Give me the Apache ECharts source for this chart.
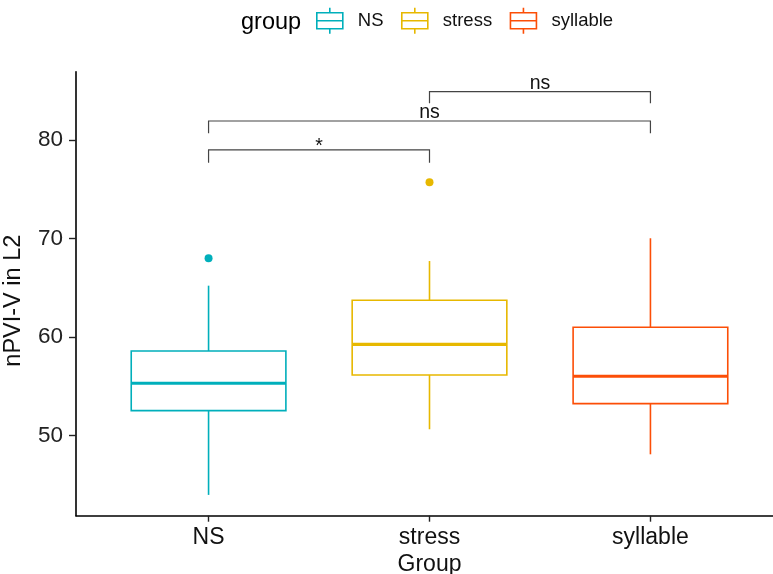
<!DOCTYPE html>
<html>
<head>
<meta charset="utf-8">
<script src="https://cdn.jsdelivr.net/npm/echarts@6/dist/echarts.min.js"></script>
<style>
  html, body { margin: 0; padding: 0; background: #fff; }
  #chart { width: 773px; height: 574px; }
</style>
</head>
<body>
<div id="chart"></div>
<script>
// Groups and their box summaries (nPVI-V in L2)
const groups = ['NS', 'stress', 'syllable'];
const groupColors = ['#00AFBB', '#E7B800', '#FC4E07'];
const whiskerLow = [43.99, 50.65, 48.11];
const q1 = [52.54, 56.16, 53.25];
const median = [55.32, 59.27, 56.03];
const q3 = [58.59, 63.74, 61.00];
const whiskerHigh = [65.22, 67.72, 70.03];
const outliers = [[68.0], [75.71], []];

// Pairwise comparisons drawn as brackets above the boxes
const comparisons = [['NS', 'stress'], ['NS', 'syllable'], ['stress', 'syllable']];
const comparisonLabels = ['*', 'ns', 'ns'];
const bracketLevel = [78.99, 81.93, 84.90];
const bracketTip = [77.70, 80.68, 83.72];

// Axis scale
const yTicks = [50, 60, 70, 80];
const yMin = 41.88, yMax = 86.93;
const xMin = 0.4, xMax = 3.6;

const FONT = 'Liberation Sans, Arial, Helvetica, sans-serif';
const BOX_FRACTION = 0.70;
const pos = name => groups.indexOf(name) + 1;

const chart = echarts.init(document.getElementById('chart'), null, { renderer: 'canvas' });

function renderBox(params, api) {
  const x = api.value(0);
  const color = api.visual('color');
  const half = api.size([1, 0])[0] * BOX_FRACTION / 2;
  const pLo = api.coord([x, api.value(1)]);
  const pQ1 = api.coord([x, api.value(2)]);
  const pMed = api.coord([x, api.value(3)]);
  const pQ3 = api.coord([x, api.value(4)]);
  const pHi = api.coord([x, api.value(5)]);
  const cx = pMed[0];
  const stroke = { stroke: color, lineWidth: 1.6, fill: null };
  return {
    type: 'group',
    children: [
      { type: 'line', shape: { x1: cx, y1: pQ3[1], x2: cx, y2: pHi[1] }, style: stroke },
      { type: 'line', shape: { x1: cx, y1: pQ1[1], x2: cx, y2: pLo[1] }, style: stroke },
      { type: 'rect', shape: { x: cx - half, y: pQ3[1], width: 2 * half, height: pQ1[1] - pQ3[1] },
        style: { stroke: color, lineWidth: 1.6, fill: '#fff' } },
      { type: 'line', shape: { x1: cx - half, y1: pMed[1], x2: cx + half, y2: pMed[1] },
        style: { stroke: color, lineWidth: 3.2 } }
    ]
  };
}

function renderBracket(params, api) {
  const a = api.value(0), b = api.value(1);
  const level = api.value(2), tip = api.value(3);
  const label = comparisonLabels[params.dataIndex];
  const pA0 = api.coord([a, tip]), pA1 = api.coord([a, level]);
  const pB1 = api.coord([b, level]), pB0 = api.coord([b, tip]);
  const mid = api.coord([(a + b) / 2, level]);
  // the asterisk glyph sits high in its line box, so it is nudged further down
  const nudge = label === '*' ? 7 : 2;
  return {
    type: 'group',
    children: [
      { type: 'polyline', shape: { points: [pA0, pA1, pB1, pB0] },
        style: { stroke: '#444', lineWidth: 1.2, fill: null } },
      { type: 'text', x: mid[0], y: mid[1] + nudge,
        style: { text: label, font: '19.5px ' + FONT, fill: '#111',
                 textAlign: 'center', textVerticalAlign: 'bottom' } }
    ]
  };
}

const series = [];
groups.forEach((g, i) => {
  series.push({
    name: g,
    type: 'custom',
    renderItem: renderBox,
    itemStyle: { color: groupColors[i] },
    encode: { x: 0, y: [1, 2, 3, 4, 5] },
    data: [[i + 1, whiskerLow[i], q1[i], median[i], q3[i], whiskerHigh[i]]],
    z: 2
  });
  series.push({
    name: g,
    type: 'scatter',
    symbol: 'circle',
    symbolSize: 8,
    itemStyle: { color: groupColors[i], opacity: 1 },
    data: outliers[i].map(v => [i + 1, v]),
    z: 3
  });
});
series.push({
  name: 'comparisons',
  type: 'custom',
  renderItem: renderBracket,
  encode: { x: [0, 1], y: [2, 3] },
  data: comparisons.map((c, k) => [pos(c[0]), pos(c[1]), bracketLevel[k], bracketTip[k]]),
  silent: true,
  z: 4
});

const boxIcon = 'path://M1,5 L27,5 L27,21 L1,21 Z M1,13 L27,13 M14,0 L14,5 M14,21 L14,26';

chart.setOption({
  animation: false,
  backgroundColor: '#fff',
  textStyle: { fontFamily: FONT },
  title: {
    text: 'group',
    left: 241,
    top: 11,
    padding: 0,
    textStyle: { fontFamily: FONT, fontSize: 23.5, fontWeight: 'normal', color: '#000' }
  },
  legend: {
    left: 316,
    top: 7,
    padding: 0,
    itemWidth: 28,
    itemHeight: 26,
    itemGap: 17.5,
    textStyle: { fontFamily: FONT, fontSize: 18.5, color: '#111', padding: [0, 0, 0, 9] },
    data: groups.map((g, i) => ({
      name: g,
      icon: boxIcon,
      itemStyle: { color: 'rgba(255,255,255,0)', borderColor: groupColors[i], borderWidth: 1.6 }
    }))
  },
  grid: { left: 76, top: 71.7, width: 707, bottom: 58.3, containLabel: false, outerBoundsMode: 'none' },
  xAxis: {
    type: 'value',
    min: xMin,
    max: xMax,
    name: 'Group',
    nameLocation: 'middle',
    nameGap: 37,
    nameTextStyle: { fontFamily: FONT, fontSize: 23, color: '#111' },
    axisLine: { show: true, onZero: false, lineStyle: { color: '#000', width: 1.6 } },
    axisTick: { show: true, length: 6, customValues: [1, 2, 3], lineStyle: { color: '#222', width: 1.4 } },
    axisLabel: {
      customValues: [1, 2, 3],
      margin: 10,
      fontFamily: FONT, fontSize: 23, color: '#111',
      formatter: v => groups[Math.round(v) - 1] || ''
    },
    splitLine: { show: false }
  },
  yAxis: {
    type: 'value',
    min: yMin,
    max: yMax,
    name: 'nPVI-V in L2',
    nameLocation: 'middle',
    nameGap: 50,
    nameRotate: 90,
    nameTextStyle: { fontFamily: FONT, fontSize: 23.5, color: '#111', padding: [0, 14, 0, 0] },
    axisLine: { show: true, onZero: false, lineStyle: { color: '#000', width: 1.6 } },
    axisTick: { show: true, length: 7, customValues: yTicks, lineStyle: { color: '#222', width: 1.4 } },
    axisLabel: {
      customValues: yTicks,
      margin: 13,
      fontFamily: FONT, fontSize: 22.5, color: '#222'
    },
    splitLine: { show: false }
  },
  series: series
});
</script>
</body>
</html>
